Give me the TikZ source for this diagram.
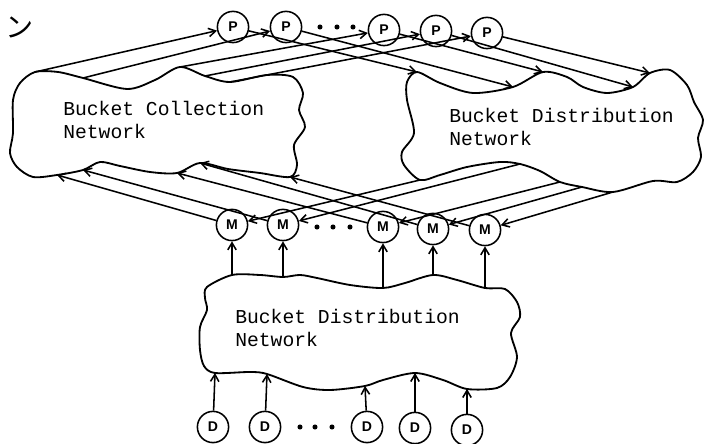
\documentclass[tikz,border=0pt]{standalone}
\usepackage{fontspec}
\setmonofont{Liberation Mono}
\setsansfont{Liberation Sans}
\newfontfamily\cjk{Noto Sans CJK JP}
\usetikzlibrary{calc,arrows.meta}

\tikzset{
  unit/.style={circle, draw, line width=1.1pt, minimum size=0.78cm, inner sep=0pt,
    font=\sffamily\bfseries\fontsize{10}{11}\selectfont},
  cloudline/.style={line width=1.3pt, line join=round},
  link/.style={-{Straight Barb[length=5pt,width=6pt]}, line width=1.1pt},
  netlabel/.style={anchor=west, align=left, inner sep=0pt,
    font=\ttfamily\fontsize{14}{16}\selectfont},
}

\begin{document}
\begin{tikzpicture}[x=0.025cm, y=-0.025cm]
    \useasboundingbox (0,0) rectangle (706,444);

    % clouds
    \draw[cloudline] plot[smooth cycle, tension=0.5] coordinates {
        (35,72) (58,72) (83,78) (127,89) (155,80) (180,67) (205,76) (230,82)
        (267,75) (293,77) (303,93) (299,110) (305,127) (294,145) (297,165)
        (290,177) (260,173) (228,169) (200,163) (177,173) (150,172) (120,166)
        (100,162) (83,170) (57,175) (33,177) (17,167) (10,153) (13,133)
        (13,100) (20,83)};
    \draw[cloudline] plot[smooth cycle, tension=0.5] coordinates {
        (417,72) (440,83) (473,93) (513,87) (543,72) (567,77) (583,87) (607,93)
        (633,87) (650,73) (670,70) (687,85) (694,102) (703,120) (698,138)
        (701,157) (693,172) (677,182) (653,181) (613,192) (582,187) (560,182)
        (540,171) (520,164) (500,162) (467,167) (440,175) (420,180) (404,165)
        (402,152) (414,133) (407,100) (407,82)};
    \draw[cloudline] plot[smooth cycle, tension=0.5] coordinates {
        (207,287) (232,275) (260,275) (283,277) (300,275) (317,278) (350,285)
        (383,288) (405,283) (433,275) (457,280) (485,288) (505,289) (517,302)
        (520,317) (511,333) (517,357) (510,377) (497,388) (467,389) (443,380)
        (415,373) (383,380) (365,386) (330,390) (303,387) (267,374) (250,372)
        (215,373) (204,366) (200,350) (200,327) (207,310) (205,298)};

    % points on the clouds
    \foreach \name/\x/\y in {ct1/35/72, ct2/83/78, ct3/180/67, ct4/205/76, ct5/230/82,
                             cb1/57/175, cb2/83/170, cb3/177/173, cb4/200/163, cb5/290/177,
                             rt1/417/72, rt2/513/87, rt3/543/72, rt4/633/87, rt5/650/73,
                             rb1/420/180, rb2/520/164, rb3/560/182, rb4/582/187, rb5/613/192,
                             lt1/232/275, lt2/283/277, lt3/383/288, lt4/433/275, lt5/485/288,
                             lb1/215/373, lb2/267/374, lb3/365/386, lb4/415/373, lb5/467/389}
        \coordinate (\name) at (\x,\y);

    \node[netlabel] (bcn) at (63,120) {Bucket Collection\\Network};
    \node[netlabel] (bdnu) at (449,127) {Bucket Distribution\\Network};
    \node[netlabel] (bdnl) at (235,328) {Bucket Distribution\\Network};

    % P, M and D units
    \foreach \name/\x/\y in {p1/233/27, p2/286/27, p3/384/30, p4/436/31, p5/487/33}
        \node[unit] (\name) at (\x,\y) {P};
    \foreach \name/\x/\y in {m1/232/225, m2/283/225, m3/383/227, m4/433/229, m5/485/230}
        \node[unit] (\name) at (\x,\y) {M};
    \foreach \name/\x/\y in {d1/213/427, d2/265/427, d3/367/427, d4/415/428, d5/467/430}
        \node[unit] (\name) at (\x,\y) {D};

    \foreach \x in {320,337,353} \fill (\x,27) circle (1.8pt);
    \foreach \x in {317,333,350} \fill (\x,227) circle (1.8pt);
    \foreach \x in {300,315,332} \fill (\x,427) circle (1.8pt);

    \foreach \i in {1,...,5}{
        \draw[link] (ct\i) -- (p\i);
        \draw[link] (p\i) -- (rt\i);
        \draw[link] (m\i) -- (cb\i);
        \draw[link] (rb\i) -- (m\i);
        \draw[link] (lt\i) -- (m\i);
        \draw[link] (d\i) -- (lb\i);
    }

    \node[font=\cjk\fontsize{20}{20}\selectfont] (mark) at (20,27) {ン};
\end{tikzpicture}
\end{document}
